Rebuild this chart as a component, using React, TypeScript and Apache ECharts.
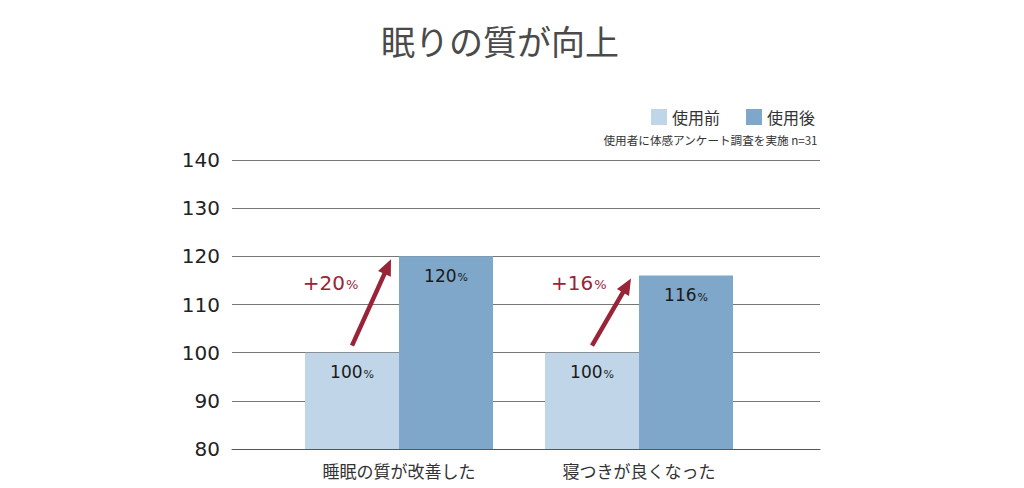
import React, { useEffect, useRef } from "react";
import * as echarts from "echarts";

const titleText = "眠りの質が向上";
const noteText = "使用者に体感アンケート調査を実施 n=31";
const categories = ["睡眠の質が改善した", "寝つきが良くなった"];
const seriesNames = ["使用前", "使用後"];
const beforeValues = [100, 100];
const afterValues = [120, 116];
const gainLabels = ["+20", "+16"];
const yTicks = [80, 90, 100, 110, 120, 130, 140];

const LIGHT = "#c0d5e8";
const DARK = "#7fa7c9";
const RED = "#9a2437";
const BAR_W = 94;
const JP = "'Noto Sans CJK JP', 'Noto Sans', sans-serif";
const NUM = "'DejaVu Sans', sans-serif";

export default function App() {
  const ref = useRef<HTMLDivElement>(null);
  useEffect(() => {
    if (!ref.current) return;
    const chart = echarts.init(ref.current, undefined, { renderer: "svg" });
    const yMin = yTicks[0];
    const yMax = yTicks[yTicks.length - 1];
    const barLabel = (p: any) => `{n|${p.value}}{p|%}`;
    const labelRich = {
      n: { fontFamily: NUM, fontSize: 17, color: "#1a1a1a" },
      p: { fontFamily: NUM, fontSize: 11, color: "#1a1a1a", padding: [4, 0, 0, 1] },
    };
    chart.setOption({
      animation: false,
      title: [
        {
          text: titleText,
          left: 376,
          top: 18,
          textStyle: { fontFamily: JP, fontSize: 34, fontWeight: "normal", color: "#4a4a4a" },
        },
      ],
      legend: {
        data: seriesNames,
        right: 204,
        top: 104,
        icon: "rect",
        itemWidth: 16,
        itemHeight: 16,
        itemGap: 26,
        textStyle: { fontFamily: JP, fontSize: 16, color: "#333" },
      },
      grid: [
        { left: 232, right: 204, top: 160, bottom: 39 },
        { left: 279, right: 265, top: 160, bottom: 39 },
      ],
      xAxis: [
        {
          gridIndex: 0,
          type: "category",
          data: ["", ""],
          axisLine: { show: true, lineStyle: { color: "#555", width: 1 } },
          axisTick: { show: false },
          axisLabel: { show: false },
        },
        {
          gridIndex: 1,
          type: "category",
          data: categories,
          axisLine: { show: false },
          axisTick: { show: false },
          axisLabel: { margin: 13, fontFamily: JP, fontSize: 17, color: "#333" },
        },
      ],
      yAxis: [
        {
          gridIndex: 0,
          type: "value",
          min: yMin,
          max: yMax,
          interval: 10,
          axisLine: { show: false },
          axisTick: { show: false },
          axisLabel: { margin: 12, fontFamily: NUM, fontSize: 20, color: "#222" },
          splitLine: { lineStyle: { color: "#777", width: 1 } },
        },
        {
          gridIndex: 1,
          type: "value",
          min: yMin,
          max: yMax,
          interval: 10,
          show: false,
          splitLine: { show: false },
        },
      ],
      series: [
        {
          name: seriesNames[0],
          type: "bar",
          xAxisIndex: 1,
          yAxisIndex: 1,
          data: beforeValues,
          barWidth: BAR_W,
          barGap: "0%",
          itemStyle: { color: LIGHT },
          label: { show: true, position: "insideTop", distance: 11, formatter: barLabel, rich: labelRich },
        },
        {
          name: seriesNames[1],
          type: "bar",
          xAxisIndex: 1,
          yAxisIndex: 1,
          data: afterValues,
          barWidth: BAR_W,
          barGap: "0%",
          itemStyle: { color: DARK },
          label: { show: true, position: "insideTop", distance: 11, formatter: barLabel, rich: labelRich },
        },
      ],
    });

    const graphics: any[] = [
      {
        type: "text",
        right: 206,
        top: 134,
        style: { text: noteText, fontFamily: JP, fontSize: 11.6, fill: "#333" },
      },
    ];
    categories.forEach((_, i) => {
      const cx = chart.convertToPixel({ xAxisIndex: 1 }, i) as number;
      const yb = chart.convertToPixel({ yAxisIndex: 1 }, beforeValues[i]) as number;
      const ya = chart.convertToPixel({ yAxisIndex: 1 }, afterValues[i]) as number;
      const sx = cx - BAR_W / 2;
      const sy = yb - 7;
      const tx = cx - 8;
      const ty = ya + 3;
      const dx = tx - sx;
      const dy = ty - sy;
      const len = Math.sqrt(dx * dx + dy * dy);
      const ux = dx / len;
      const uy = dy / len;
      const headL = 16;
      const headW = 7;
      const bx = tx - ux * headL;
      const by = ty - uy * headL;
      graphics.push({
        type: "line",
        shape: { x1: sx, y1: sy, x2: bx + ux * 2, y2: by + uy * 2 },
        style: { stroke: RED, lineWidth: 4.5 },
        z: 10,
      });
      graphics.push({
        type: "polygon",
        shape: {
          points: [
            [tx, ty],
            [bx - uy * headW, by + ux * headW],
            [bx + uy * headW, by - ux * headW],
          ],
        },
        style: { fill: RED },
        z: 10,
      });
      const ly = chart.convertToPixel({ yAxisIndex: 1 }, 114.5) as number;
      const arrowXAtLy = sx + ((sy - ly) / (sy - ty)) * dx;
      graphics.push({
        type: "text",
        x: arrowXAtLy - 22,
        y: ly,
        z: 10,
        style: {
          text: `{n|${gainLabels[i]}}{p|%}`,
          align: "right",
          verticalAlign: "middle",
          rich: {
            n: { fontFamily: NUM, fontSize: 20, fill: RED, color: RED },
            p: { fontFamily: NUM, fontSize: 13, fill: RED, color: RED, padding: [4, 0, 0, 1] },
          },
        },
      });
    });
    chart.setOption({ graphic: graphics });

    return () => chart.dispose();
  }, []);
  return (
    <div
      ref={ref}
      style={{ position: "fixed", left: 0, top: 0, width: 1024, height: 488, background: "#fff" }}
    />
  );
}
